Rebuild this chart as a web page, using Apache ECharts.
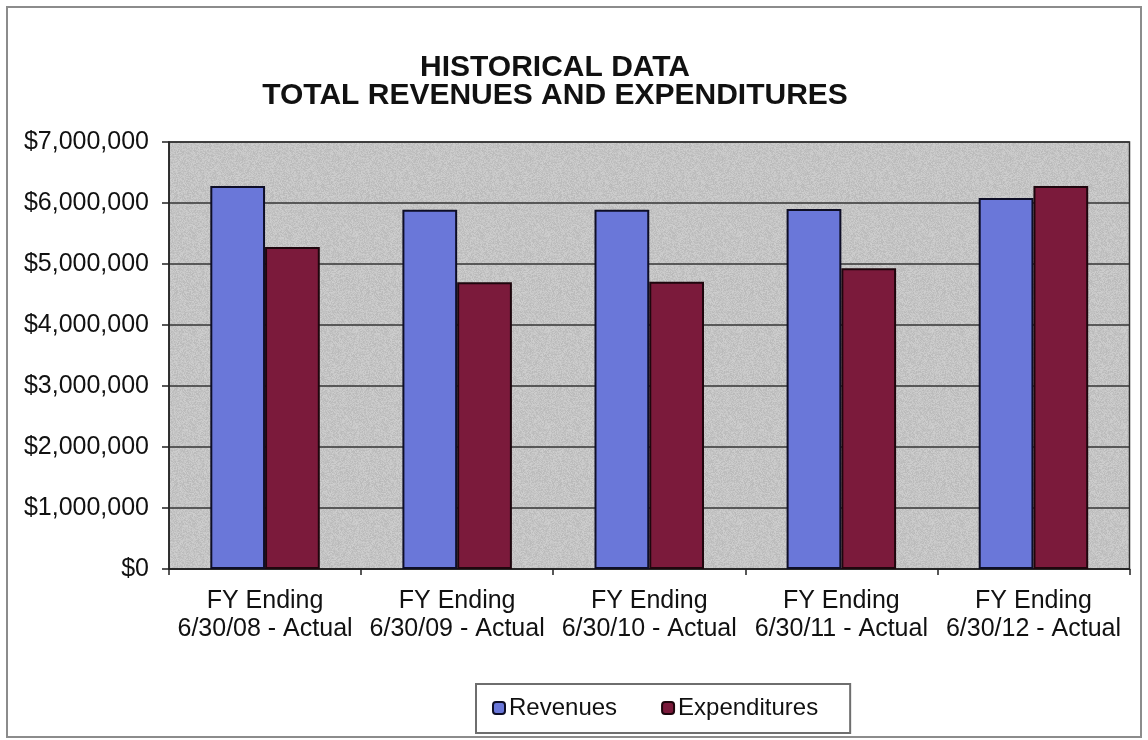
<!DOCTYPE html>
<html>
<head>
<meta charset="utf-8">
<script src="https://cdn.jsdelivr.net/npm/echarts@6/dist/echarts.min.js"></script>
<style>
  html, body { margin: 0; padding: 0; background: #ffffff; }
  #chart { width: 1148px; height: 740px; }
</style>
</head>
<body>
<div id="chart"></div>
<script>
// Fiscal years shown on the category axis
const categories = [
  'FY Ending\n6/30/08 - Actual',
  'FY Ending\n6/30/09 - Actual',
  'FY Ending\n6/30/10 - Actual',
  'FY Ending\n6/30/11 - Actual',
  'FY Ending\n6/30/12 - Actual'
];
// Totals in dollars
const revenues     = [6280000, 5890000, 5890000, 5900000, 6080000];
const expenditures = [5280000, 4700000, 4710000, 4930000, 6280000];
// Value axis range
const yMin = 0;
const yMax = 7000000;
const yStep = 1000000;

const FONT = '"Liberation Sans", Arial, Helvetica, sans-serif';

function money(v) {
  return '$' + Math.round(v).toString().replace(/\B(?=(\d{3})+(?!\d))/g, ',');
}

// Speckled grey "granite" fill for the plot area, built from a fixed hash
function graniteTile() {
  const size = 96;
  const c = document.createElement('canvas');
  c.width = size; c.height = size;
  const ctx = c.getContext('2d');
  const img = ctx.createImageData(size, size);
  for (let y = 0; y < size; y++) {
    for (let x = 0; x < size; x++) {
      let h = (x * 374761393 + y * 668265263) | 0;
      h = Math.imul(h ^ (h >>> 13), 1274126177);
      h = (h ^ (h >>> 16)) >>> 0;
      const n = (h % 1000) / 1000 - 0.5;
      const v = Math.round(196 + n * 22);
      const i = (y * size + x) * 4;
      img.data[i] = v; img.data[i + 1] = v; img.data[i + 2] = v; img.data[i + 3] = 255;
    }
  }
  ctx.putImageData(img, 0, 0);
  return c;
}

const chart = echarts.init(document.getElementById('chart'), null, { renderer: 'canvas' });

chart.setOption({
  animation: false,
  backgroundColor: '#ffffff',
  textStyle: { fontFamily: FONT },
  title: {
    text: 'HISTORICAL DATA\nTOTAL REVENUES AND EXPENDITURES',
    left: 550,
    top: 49,
    textAlign: 'center',
    textStyle: {
      fontFamily: FONT,
      fontSize: 30,
      fontWeight: 'bold',
      lineHeight: 28,
      color: '#111111'
    }
  },
  graphic: [{
    type: 'rect',
    shape: { x: 7, y: 7, width: 1134, height: 730 },
    style: { fill: 'none', stroke: '#8c8c8c', lineWidth: 2 },
    silent: true,
    z: -10
  }],
  legend: {
    data: ['Revenues', 'Expenditures'],
    left: 476,
    top: 684,
    padding: [12, 32, 13, 16],
    itemWidth: 12,
    itemHeight: 12,
    itemGap: 44,
    backgroundColor: '#ffffff',
    borderColor: '#6e6e6e',
    borderWidth: 2,
    textStyle: { fontFamily: FONT, fontSize: 24, color: '#111111', padding: [0, 0, 0, -1] }
  },
  grid: {
    left: 169,
    right: 18.5,
    top: 142,
    bottom: 171,
    show: true,
    backgroundColor: { image: graniteTile(), repeat: 'repeat' },
    borderColor: '#2e2e2e',
    borderWidth: 1.5
  },
  xAxis: {
    type: 'category',
    data: categories,
    boundaryGap: true,
    axisLine: { show: true, lineStyle: { color: '#222222', width: 1.5 } },
    axisTick: { show: true, alignWithLabel: false, length: 6, lineStyle: { color: '#222222', width: 1.5 } },
    axisLabel: {
      fontFamily: FONT,
      fontSize: 25,
      lineHeight: 28,
      color: '#111111',
      margin: 18,
      interval: 0
    }
  },
  yAxis: {
    type: 'value',
    min: yMin,
    max: yMax,
    interval: yStep,
    axisLine: { show: true, lineStyle: { color: '#222222', width: 1.5 } },
    axisTick: { show: true, length: 7, lineStyle: { color: '#222222', width: 1.5 } },
    splitLine: { show: true, lineStyle: { color: '#353535', width: 1.5 } },
    axisLabel: {
      fontFamily: FONT,
      fontSize: 25,
      color: '#111111',
      margin: 20,
      formatter: money
    }
  },
  series: [
    {
      name: 'Revenues',
      type: 'bar',
      data: revenues,
      barGap: '0%',
      barCategoryGap: '43%',
      itemStyle: { color: '#6a77d9', borderColor: '#0e0e26', borderWidth: 2 }
    },
    {
      name: 'Expenditures',
      type: 'bar',
      data: expenditures,
      barGap: '0%',
      barCategoryGap: '43%',
      itemStyle: { color: '#7b1a3b', borderColor: '#1e060d', borderWidth: 2 }
    }
  ]
});
</script>
</body>
</html>
